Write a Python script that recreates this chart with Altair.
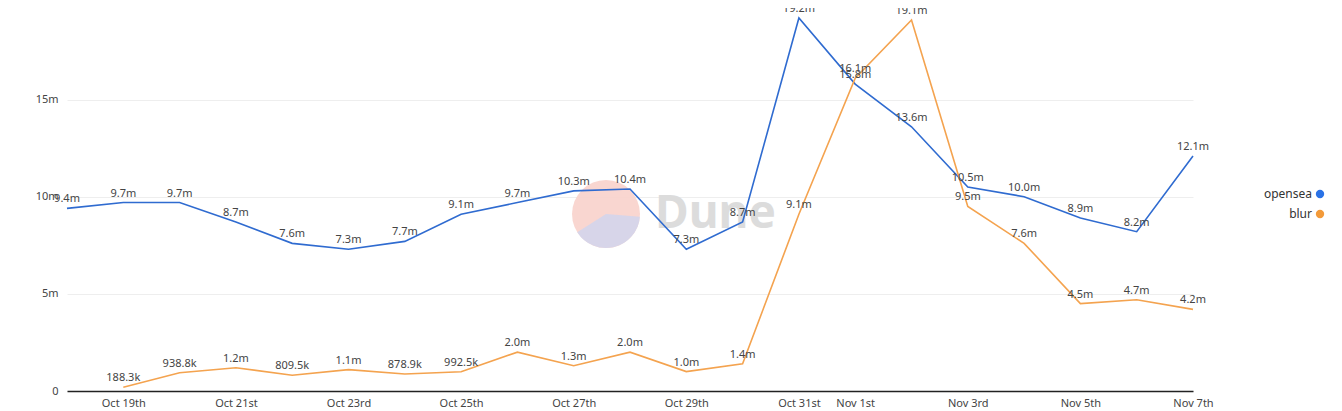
import altair as alt
import pandas as pd

days = ["Oct 18th", "Oct 19th", "Oct 20th", "Oct 21st", "Oct 22nd", "Oct 23rd", "Oct 24th",
        "Oct 25th", "Oct 26th", "Oct 27th", "Oct 28th", "Oct 29th", "Oct 30th", "Oct 31st",
        "Nov 1st", "Nov 2nd", "Nov 3rd", "Nov 4th", "Nov 5th", "Nov 6th", "Nov 7th"]
tick_days = ["Oct 19th", "Oct 21st", "Oct 23rd", "Oct 25th", "Oct 27th", "Oct 29th",
             "Oct 31st", "Nov 1st", "Nov 3rd", "Nov 5th", "Nov 7th"]

opensea = [9.4e6, 9.7e6, 9.7e6, 8.7e6, 7.6e6, 7.3e6, 7.7e6, 9.1e6, 9.7e6, 10.3e6, 10.4e6,
           7.3e6, 8.7e6, 19.2e6, 15.8e6, 13.6e6, 10.5e6, 10.0e6, 8.9e6, 8.2e6, 12.1e6]
blur = [None, 188.3e3, 938.8e3, 1.2e6, 809.5e3, 1.1e6, 878.9e3, 992.5e3, 2.0e6, 1.3e6, 2.0e6,
        1.0e6, 1.4e6, 9.1e6, 16.1e6, 19.1e6, 9.5e6, 7.6e6, 4.5e6, 4.7e6, 4.2e6]

series_names = ["opensea", "blur"]
series_colors = ["#2f6bd0", "#f4a34f"]
legend_colors = ["#2a72e6", "#f39a3a"]

rows = []
for name, vals in zip(series_names, [opensea, blur]):
    for d, v in zip(days, vals):
        if v is not None:
            rows.append({"day": d, "value": v, "series": name})
df = pd.DataFrame(rows)

FONT = "Noto Sans"
W, H = 1126, 373

color = alt.Color("series:N", scale=alt.Scale(domain=series_names, range=series_colors), legend=None)
x = alt.X("day:O", sort=days, scale=alt.Scale(type="point", padding=0),
          axis=alt.Axis(values=tick_days, title=None, labelAngle=0, ticks=False, grid=False,
                        domainColor="#222222", domainWidth=1.5, labelColor="#444444",
                        labelFontSize=11, labelPadding=6, labelFont=FONT))
y = alt.Y("value:Q", scale=alt.Scale(domain=[0, 19.2e6], nice=False),
          axis=alt.Axis(values=[0, 5e6, 10e6, 15e6], title=None, ticks=False, domain=False,
                        gridColor="#eeeeee", labelColor="#444444", labelFontSize=11,
                        labelPadding=9, labelFont=FONT,
                        labelExpr="datum.value == 0 ? '0' : format(datum.value / 1e6, 'd') + 'm'"))

one = pd.DataFrame({"k": [0]})
wm_pink = alt.Chart(one).mark_arc(radius=34, theta=0, theta2=6.2832, color="#f8d2cb", opacity=0.9).encode(
    x=alt.value(539), y=alt.value(196))
wm_lav = alt.Chart(one).mark_arc(radius=34, theta=1.65, theta2=4.15, color="#d5d5ea", opacity=0.95).encode(
    x=alt.value(539), y=alt.value(196))
wm_text = alt.Chart(one).mark_text(text="Dune", font=FONT, fontSize=46, fontWeight="bold",
                                   color="#dcdcdc", align="left", baseline="middle").encode(
    x=alt.value(588), y=alt.value(196))

base = alt.Chart(df)
lines = base.mark_line(strokeWidth=1.6).encode(x=x, y=y, color=color)
labels = base.mark_text(font=FONT, fontSize=11, color="#444444", baseline="bottom", dy=-4).encode(
    x=x, y=y,
    text=alt.Text("label:N")).transform_calculate(
    label="datum.value >= 1e6 ? format(datum.value / 1e6, '.1f') + 'm' : format(datum.value / 1e3, '.1f') + 'k'")

legend_layers = []
for i, (name, c) in enumerate(zip(series_names, legend_colors)):
    legend_layers.append(alt.Chart(one).mark_text(text=name, font=FONT, fontSize=12, color="#333333",
                                                  align="right", baseline="middle").encode(
        x=alt.value(1245), y=alt.value(176 + 20 * i)))
    legend_layers.append(alt.Chart(one).mark_point(filled=True, shape="circle", size=70, color=c,
                                                   opacity=1).encode(
        x=alt.value(1253), y=alt.value(176 + 20 * i)))

chart = alt.layer(wm_pink, wm_lav, wm_text, lines, labels, *legend_layers).properties(
    width=W, height=H, autosize="none",
    padding={"left": 59, "top": 10, "right": 141, "bottom": 18}
).configure(background="white", view=alt.ViewConfig(stroke=None))

chart.save("out.html", embed_options={"renderer": "svg", "actions": False})
